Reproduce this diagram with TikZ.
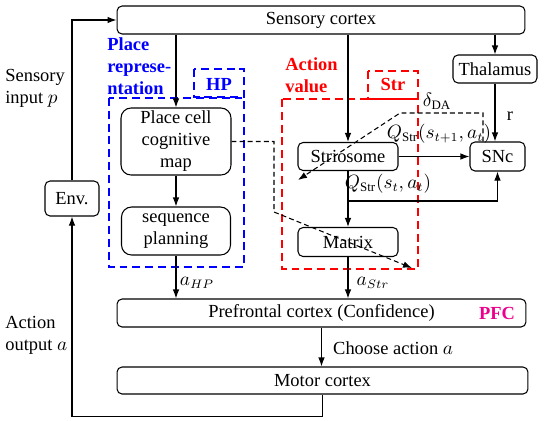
\documentclass[tikz,border=0pt]{standalone}
\usepackage{amsmath,amssymb}
\usepackage{fontspec}
\setmainfont{Liberation Serif}
\usepackage{xcolor}
\usetikzlibrary{arrows.meta}

\begin{document}
\begin{tikzpicture}[x=0.02cm,y=-0.02cm,
  font=\fontsize{10.5}{12.5}\selectfont,
  blk/.style={draw,rounded corners=0.1cm,line width=0.6pt,inner sep=0pt,align=center},
  arr/.style={-{Latex[length=1.8mm,width=1.3mm]},line width=0.6pt},
  dsh/.style={arr,dash pattern=on 2.8pt off 1.8pt},
  reg/.style={line width=1.2pt,dash pattern=on 4.5pt off 2.8pt},
  tag/.style={font=\fontsize{10.5}{12.5}\selectfont\bfseries,inner sep=0pt,align=left}]
\useasboundingbox (0,0) rectangle (550,420);
\draw[reg,blue] (109,98) rectangle (244,267);
\draw[reg,blue] (194,69) rectangle (244,97);
\draw[reg,red] (282,99) rectangle (418,269);
\draw[reg,red] (368,71) rectangle (418,99);
\node[tag,text=blue,anchor=west] at (107,66) {Place\\represe-\\ntation};
\node[tag,text=blue] at (219,84) {HP};
\node[tag,text=red,anchor=west] at (285,75) {Action\\value};
\node[tag,text=red] at (393,84) {Str};
\node[blk,minimum width=8.16cm,minimum height=0.56cm] (sens) at (321,20) {Sensory cortex};
\node[blk,minimum width=1.68cm,minimum height=0.56cm] (thal) at (495,69) {Thalamus};
\node[blk,minimum width=1.1cm,minimum height=0.58cm] (snc) at (497.5,156.5) {SNc};
\node[blk,minimum width=2cm,minimum height=0.56cm] (strio) at (348,156.5) {Striosome};
\node[blk,minimum width=2cm,minimum height=0.58cm] (matrix) at (348,242) {Matrix};
\node[blk,rounded corners=0.2cm,minimum width=2.2cm,minimum height=1.34cm] (place) at (176,141.5) {Place cell\\cognitive\\map};
\node[blk,rounded corners=0.2cm,minimum width=2.18cm,minimum height=0.96cm] (seq) at (176,231) {sequence\\planning};
\node[blk,minimum width=1.08cm,minimum height=0.7cm] (env) at (72,198.5) {Env.};
\node[blk,minimum width=8.18cm,minimum height=0.56cm] (pfc) at (321.5,313) {Prefrontal cortex (Confidence)};
\node[blk,minimum width=8.22cm,minimum height=0.54cm] (motor) at (322.5,380.5) {Motor cortex};
\node[tag,text=magenta] at (497,313) {PFC};
\coordinate (br) at (348,201);
\coordinate (dA) at (298,180);
\coordinate (dB) at (412,268);
\draw[arr] (place.north |- sens.south) -- (place.north);
\draw[arr] (strio.north |- sens.south) -- (strio.north);
\draw[arr] (thal.north |- sens.south) -- (thal.north);
\draw[arr] (thal.south) -- (thal.south |- snc.north);
\draw[arr] (strio) -- (snc);
\draw[arr] (strio) -- (matrix);
\draw[arr] (br) -| (snc.south);
\draw[arr] (place) -- (seq);
\draw[arr] (seq) -- (seq.south |- pfc.north);
\draw[arr] (matrix) -- (matrix.south |- pfc.north);
\draw[arr] (pfc.south) -- (pfc.south |- motor.north);
\draw[arr] (motor.south) -- ++(0,22) -| (env.south);
\draw[arr] (env.north) |- (sens.west);
\draw[dsh] ([xshift=-0.29cm]snc.north) |- (400,113) -- (dA);
\draw[dsh] (place.east) -| (274,212) -- (dB);
\node at (510,116) {r};
\node at (437,101) {$\delta_{\mathrm{DA}}$};
\node at (439,134) {$Q_{\mathrm{Str}}(s_{t+1},a_t)$};
\node at (388,184) {$Q_{\mathrm{Str}}(s_t,a_t)$};
\node at (197,283) {$a_{HP}$};
\node at (373,283) {$a_{Str}$};
\node[anchor=west] at (327,348) {Choose action $a$};
\node[align=left,anchor=west,inner sep=0pt] at (5,88) {Sensory\\input $p$};
\node[align=left,anchor=west,inner sep=0pt] at (5,335) {Action\\output $a$};
\end{tikzpicture}
\end{document}
